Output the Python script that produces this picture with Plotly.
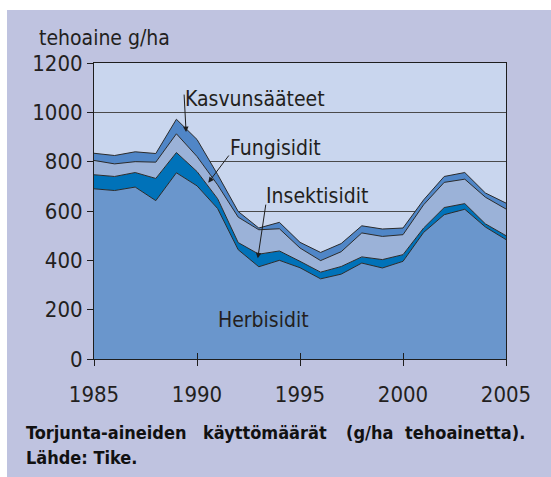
import plotly.graph_objects as go

# Vuodet ja torjunta-aineryhmien käyttömäärät (g/ha tehoainetta)
years = list(range(1985, 2006))
herbisidit = [690, 683, 697, 642, 755, 702, 610, 443, 374, 400, 370,
              325, 344, 389, 369, 396, 513, 585, 607, 535, 484]
insektisidit = [57, 57, 59, 90, 82, 58, 40, 29, 51, 38, 26,
                27, 31, 25, 34, 27, 18, 29, 23, 13, 16]
fungisidit = [58, 51, 44, 66, 76, 61, 56, 103, 99, 90, 54,
              47, 60, 97, 94, 81, 94, 102, 99, 108, 108]
kasvunsaateet = [29, 34, 40, 35, 59, 69, 42, 23, 7, 26, 23,
                 33, 33, 29, 30, 27, 20, 24, 27, 17, 24]

x_ticks = [1985, 1990, 1995, 2000, 2005]
y_ticks = [0, 200, 400, 600, 800, 1000, 1200]

FONT = "DejaVu Sans Condensed, Liberation Sans Narrow, sans-serif"
INK = "#231f20"
EDGE = "#2b2b2b"

W, H = 551, 477
ML, MR, MT, MB = 94, 45, 63, 118
PW, PH = W - ML - MR, H - MT - MB


def px_x(px):
    return (px - ML) / PW


def px_y(py):
    return (H - MB - py) / PH


fig = go.Figure()

series = [
    ("Herbisidit", herbisidit, "#6a96cc"),
    ("Insektisidit", insektisidit, "#0072b9"),
    ("Fungisidit", fungisidit, "#9bb2d8"),
    ("Kasvunsääteet", kasvunsaateet, "#5086c7"),
]
for name, vals, col in series:
    fig.add_trace(go.Scatter(
        x=years, y=vals, name=name, mode="lines",
        stackgroup="one", fillcolor=col,
        line=dict(color=EDGE, width=1),
        hoverinfo="x+y+name",
    ))

# second x axis only for the inward half of the x ticks
fig.add_trace(go.Scatter(x=[1985], y=[0], xaxis="x2", mode="markers",
                         marker=dict(opacity=0), showlegend=False,
                         hoverinfo="skip"))

tick_font = dict(family=FONT, size=22, color=INK)
label_font = dict(family=FONT, size=21, color=INK)

fig.update_layout(
    width=W, height=H,
    margin=dict(l=ML, r=MR, t=MT, b=MB),
    paper_bgcolor="#bfc3e0",
    plot_bgcolor="#c9d6ee",
    showlegend=False,
    font=label_font,
    xaxis=dict(
        range=[1985, 2005], tickvals=x_ticks,
        showgrid=False, zeroline=False,
        showline=True, mirror=True, linecolor="#1e1e1e", linewidth=1,
        ticks="outside", ticklen=6, tickcolor="#1e1e1e",
        tickfont=tick_font, ticklabelstandoff=10,
    ),
    xaxis2=dict(
        range=[1985, 2005], tickvals=x_ticks, overlaying="x",
        anchor="y", side="bottom", showgrid=False, zeroline=False,
        showticklabels=False, ticks="inside", ticklen=6,
        tickcolor="#1e1e1e",
    ),
    yaxis=dict(
        range=[0, 1200], tickvals=y_ticks,
        showgrid=True, gridcolor="#4a4a4a", gridwidth=1,
        zeroline=False,
        showline=True, mirror=True, linecolor="#1e1e1e", linewidth=1,
        ticks="outside", ticklen=6, tickcolor="#1e1e1e",
        tickfont=tick_font,
    ),
)

# white page edge above and left of the tinted panel
fig.add_shape(type="rect", xref="paper", yref="paper", layer="below",
              x0=px_x(-5), x1=px_x(W + 5), y0=px_y(10), y1=px_y(-5),
              fillcolor="white", line_width=0)
fig.add_shape(type="rect", xref="paper", yref="paper", layer="below",
              x0=px_x(-5), x1=px_x(7), y0=px_y(H + 5), y1=px_y(-5),
              fillcolor="white", line_width=0)

annotations = [
    # axis title
    dict(xref="paper", yref="paper", x=px_x(37), y=px_y(38),
         xanchor="left", yanchor="middle", text="tehoaine g/ha",
         showarrow=False, font=label_font),
    # series labels
    dict(x=1989.32, y=1056, xanchor="left", yanchor="middle",
         text="Kasvunsääteet", showarrow=False, font=label_font),
    dict(x=1991.5, y=857, xanchor="left", yanchor="middle",
         text="Fungisidit", showarrow=False, font=label_font),
    dict(x=1993.25, y=661, xanchor="left", yanchor="middle",
         text="Insektisidit", showarrow=False, font=label_font),
    dict(x=1993.25, y=158, xanchor="center", yanchor="middle",
         text="Herbisidit", showarrow=False, font=label_font),
]

# pointer arrows from labels to their bands
arrows = [
    ((1989.37, 1078), (1989.47, 920)),
    ((1991.60, 831), (1990.55, 715)),
    ((1993.35, 632), (1992.95, 408)),
]
for (tx, ty), (hx, hy) in arrows:
    annotations.append(dict(
        x=hx, y=hy, ax=tx, ay=ty, axref="x", ayref="y",
        text="", showarrow=True, arrowhead=2, arrowsize=1.1,
        arrowwidth=1, arrowcolor="#1e1e1e", standoff=0, startstandoff=0,
    ))

# caption, spread evenly across the panel width
cap_font = dict(family=FONT, size=18, color="#111111", weight="bold")
cap_words = [("Torjunta-aineiden", 24, "left"),
             ("käyttömäärät", 201, "left"),
             ("(g/ha", 344, "left"),
             ("tehoainetta).", 527, "right")]
for word, px, anchor in cap_words:
    annotations.append(dict(
        xref="paper", yref="paper", x=px_x(px), y=px_y(432),
        xanchor=anchor, yanchor="middle", text=word,
        showarrow=False, font=cap_font))
annotations.append(dict(
    xref="paper", yref="paper", x=px_x(24), y=px_y(457),
    xanchor="left", yanchor="middle", text="Lähde: Tike.",
    showarrow=False, font=cap_font))

fig.update_layout(annotations=annotations)

fig.write_html("out.html")
